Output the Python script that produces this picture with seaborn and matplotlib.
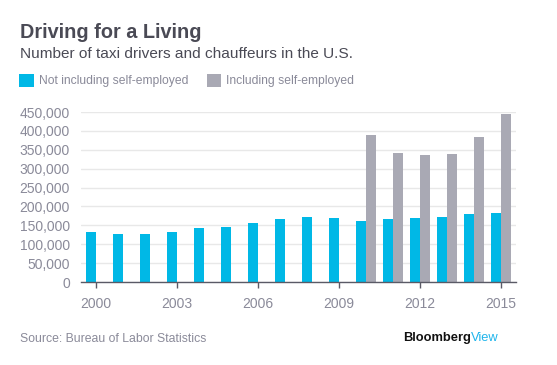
import matplotlib
matplotlib.use("Agg")
import matplotlib.pyplot as plt
import seaborn as sns
import pandas as pd
from matplotlib.patches import Patch
from matplotlib.ticker import FuncFormatter

years = list(range(2000, 2016))
not_self = [132000, 127000, 127000, 132000, 143000, 146000, 156000, 167000,
            172000, 170000, 162000, 167000, 170000, 172000, 180000, 183000]
incl_self = [None] * 10 + [389000, 341000, 336000, 339000, 384000, 445000]
series_names = ["Not including self-employed", "Including self-employed"]
tick_years = [2000, 2003, 2006, 2009, 2012, 2015]
yticks = list(range(0, 450001, 50000))

rows = []
for y, a, b in zip(years, not_self, incl_self):
    rows.append({"year": y, "series": series_names[0], "value": a})
    rows.append({"year": y, "series": series_names[1], "value": b if b is not None else float("nan")})
df = pd.DataFrame(rows)

BLUE = "#00b8e6"
GRAY = "#a9a9b4"
FONT = ["Liberation Sans", "DejaVu Sans"]

sns.set_theme(style="white")
plt.rcParams["font.family"] = FONT

fig = plt.figure(figsize=(5.57, 3.65), dpi=100)
ax = fig.add_axes([81 / 557, 83 / 365, 435 / 557, 170 / 365])

sns.barplot(data=df, x="year", y="value", hue="series", order=years,
            hue_order=series_names, palette=[BLUE, GRAY], width=0.78, gap=0.06,
            dodge=True, ax=ax, legend=False, saturation=1, linewidth=0)

ax.set_xlim(-0.567, 15.56)
ax.set_ylim(0, 450000)
ax.set_yticks(yticks)
ax.yaxis.set_major_formatter(FuncFormatter(lambda v, p: f"{int(v):,}"))
ax.set_xticks([years.index(t) for t in tick_years])
ax.set_xticklabels([str(t) for t in tick_years])
ax.set_xlabel("")
ax.set_ylabel("")
ax.grid(axis="y", color="#e8e8e8", linewidth=1)
ax.set_axisbelow(True)
for s in ["top", "right", "left"]:
    ax.spines[s].set_visible(False)
ax.spines["bottom"].set_color("#5a5a66")
ax.spines["bottom"].set_linewidth(1)
ax.tick_params(axis="x", which="both", bottom=True, length=4, width=1,
               color="#5a5a66", labelsize=10, labelcolor="#8a8a99", pad=7)
ax.tick_params(axis="y", length=0, labelsize=10, labelcolor="#8a8a99", pad=8)

fig.text(20 / 557, 1 - 38.5 / 365, "Driving for a Living", fontsize=14.3,
         fontweight="bold", color="#4a4a55", ha="left", va="baseline",
         family=FONT)
fig.text(20 / 557, 1 - 58.5 / 365, "Number of taxi drivers and chauffeurs in the U.S.",
         fontsize=11.1, color="#4a4a55", ha="left", va="baseline", family=FONT)

handles = [Patch(facecolor=BLUE, edgecolor="none"), Patch(facecolor=GRAY, edgecolor="none")]
leg = fig.legend(handles, series_names, loc="upper left",
                 bbox_to_anchor=(19 / 557, 1 - 73.5 / 365), ncol=2, frameon=False,
                 fontsize=8.7, handlelength=1.2, handleheight=1.4,
                 handletextpad=0.45, columnspacing=1.5, labelcolor="#8a8a99",
                 borderpad=0, borderaxespad=0)

fig.text(20 / 557, 1 - 342.5 / 365, "Source: Bureau of Labor Statistics",
         fontsize=8.8, color="#8a8a99", ha="left", va="baseline", family=FONT)
tv = fig.text(499 / 557, 1 - 341 / 365, "View", fontsize=9.3,
              color="#1fb5ec", ha="right", va="baseline", family=FONT)
fig.canvas.draw()
bb = tv.get_window_extent()
fig.text(bb.x0 / fig.bbox.width, 1 - 341 / 365, "Bloomberg", fontsize=9.3,
         fontweight="bold", color="#111111", ha="right", va="baseline", family=FONT)

fig.savefig("out.png", dpi=100)
